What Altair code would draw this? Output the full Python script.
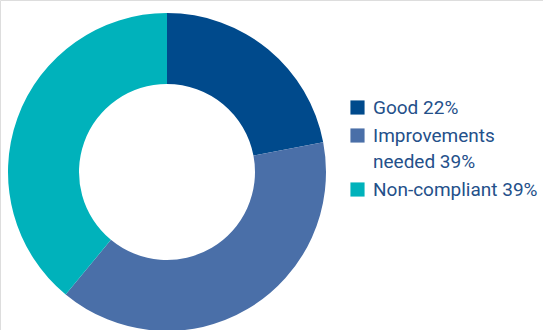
import altair as alt
import pandas as pd

categories = ["Good 22%", "Improvements needed 39%", "Non-compliant 39%"]
values = [22, 39, 39]
colors = ["#004a8c", "#4a6fa8", "#00b2bb"]

df = pd.DataFrame({"category": categories, "value": values, "order": list(range(len(values)))})

chart = alt.Chart(df).mark_arc(outerRadius=159, innerRadius=88).encode(
    theta=alt.Theta("value:Q", stack=True),
    order=alt.Order("order:Q"),
    x=alt.value(167),
    y=alt.value(172),
    color=alt.Color(
        "category:N",
        sort=categories,
        scale=alt.Scale(domain=categories, range=colors),
        legend=alt.Legend(
            title=None,
            orient="none",
            legendX=348,
            legendY=98,
            symbolType="square",
            symbolSize=200,
            symbolStrokeWidth=0,
            labelFont="Roboto",
            labelFontSize=19,
            labelColor="#24508a",
            labelExpr="datum.label == 'Improvements needed 39%' ? ['Improvements', 'needed 39%'] : datum.label",
            rowPadding=8,
            labelOffset=6,
            labelLimit=300,
        ),
    ),
).properties(
    width=543,
    height=330,
    autosize=alt.AutoSizeParams(type="none"),
    padding=0,
).configure_view(stroke=None).configure(style={"guide-label": {"lineHeight": 26}})

chart.save("out.html", embed_options={"renderer": "svg", "actions": False})
